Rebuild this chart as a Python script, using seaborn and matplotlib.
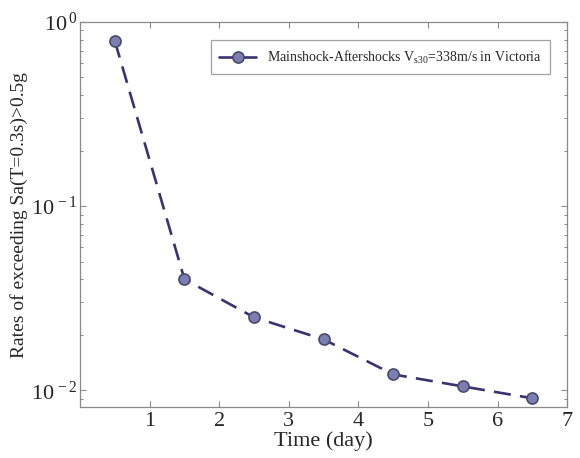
import matplotlib
matplotlib.use("Agg")
import matplotlib.pyplot as plt
from matplotlib.ticker import FuncFormatter
import numpy as np
import pandas as pd
import seaborn as sns

# data
time_day = [0.5, 1.5, 2.5, 3.5, 4.5, 5.5, 6.5]
rate = [0.788, 0.0401, 0.0249, 0.0189, 0.0122, 0.0105, 0.00905]
x_ticks = [1, 2, 3, 4, 5, 6, 7]
series_label = "Mainshock-Aftershocks V$_{s30}$=338m/s in Victoria"

LINE = "#3a3272"
FACE = "#7a7fb3"
EDGE = "#4b4b68"
SPINE = "#8a8a8a"

sns.set_theme(style="ticks")
plt.rcParams.update({
    "font.family": ["Liberation Serif", "DejaVu Serif"],
    "mathtext.fontset": "custom",
    "mathtext.rm": "Liberation Serif",
    "mathtext.it": "Liberation Serif:italic",
    "mathtext.default": "rm",
    "xtick.direction": "in",
    "ytick.direction": "in",
    "xtick.top": True,
    "ytick.right": True,
})

df = pd.DataFrame({"Time (day)": time_day, "rate": rate})

fig = plt.figure(figsize=(5.8, 4.58), dpi=100)
ax = fig.add_axes([0.138, 0.111, 0.84, 0.841])

sns.lineplot(data=df, x="Time (day)", y="rate", ax=ax, color=LINE,
             linestyle=(0, (6.5, 3.5)), linewidth=1.9, marker="o", markersize=8,
             markerfacecolor=FACE, markeredgecolor=EDGE, markeredgewidth=1.2,
             label=series_label)

ax.set_yscale("log")
ax.set_xlim(0, 7)
ax.set_ylim(0.0081, 1)
ax.set_xticks(x_ticks)
ax.yaxis.set_major_formatter(FuncFormatter(
    lambda v, p: r"$10^{\,%d}$" % int(round(np.log10(v)))))
ax.tick_params(axis="both", which="major", labelsize=16, length=4, color=SPINE, width=0.8)
ax.tick_params(axis="y", which="major", pad=2)
ax.tick_params(axis="y", which="minor", length=2.5, color=SPINE, width=0.7)
ax.tick_params(axis="x", which="minor", length=0)
for s in ax.spines.values():
    s.set_color(SPINE)
    s.set_linewidth(0.9)

ax.set_xlabel("Time (day)", fontsize=16, labelpad=0)
ax.set_ylabel("Rates of exceeding Sa(T=0.3s)>0.5g", fontsize=14, labelpad=2)

leg = ax.legend(loc="upper right", fontsize=10, frameon=True, fancybox=False,
                edgecolor=SPINE, borderpad=0.6, handlelength=2.6,
                bbox_to_anchor=(0.978, 0.97))
leg.get_frame().set_linewidth(0.9)
leg.get_lines()[0].set_linestyle("-")

fig.savefig("out.png", dpi=100)
